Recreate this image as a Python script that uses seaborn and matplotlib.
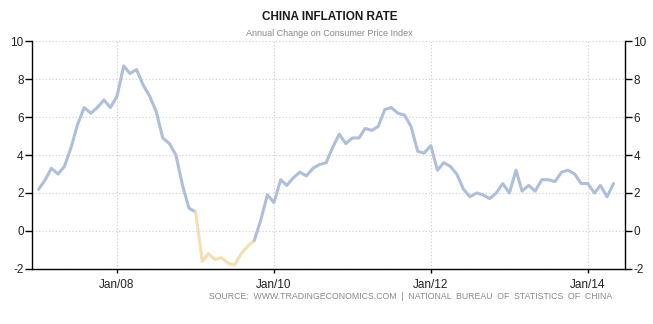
import numpy as np
import pandas as pd
import matplotlib
matplotlib.use("Agg")
import matplotlib.pyplot as plt
import matplotlib.dates as mdates
import seaborn as sns

# Monthly CPI, annual % change, Jan 2007 - May 2014
start_month = "2007-01-01"
cpi_2007 = [2.2, 2.7, 3.3, 3.0, 3.4, 4.4, 5.6, 6.5, 6.2, 6.5, 6.9, 6.5]
cpi_2008 = [7.1, 8.7, 8.3, 8.5, 7.7, 7.1, 6.3, 4.9, 4.6, 4.0, 2.4, 1.2]
cpi_2009 = [1.0, -1.6, -1.2, -1.5, -1.4, -1.7, -1.8, -1.2, -0.8, -0.5, 0.6, 1.9]
cpi_2010 = [1.5, 2.7, 2.4, 2.8, 3.1, 2.9, 3.3, 3.5, 3.6, 4.4, 5.1, 4.6]
cpi_2011 = [4.9, 4.9, 5.4, 5.3, 5.5, 6.4, 6.5, 6.2, 6.1, 5.5, 4.2, 4.1]
cpi_2012 = [4.5, 3.2, 3.6, 3.4, 3.0, 2.2, 1.8, 2.0, 1.9, 1.7, 2.0, 2.5]
cpi_2013 = [2.0, 3.2, 2.1, 2.4, 2.1, 2.7, 2.7, 2.6, 3.1, 3.2, 3.0, 2.5]
cpi_2014 = [2.5, 2.0, 2.4, 1.8, 2.5]

y_ticks = [-2, 0, 2, 4, 6, 8, 10]
x_tick_years = [2008, 2010, 2012, 2014]

values = cpi_2007 + cpi_2008 + cpi_2009 + cpi_2010 + cpi_2011 + cpi_2012 + cpi_2013 + cpi_2014
dates = pd.date_range(start_month, periods=len(values), freq="MS")
df = pd.DataFrame({"date": dates, "cpi": values})

BLUE = "#aebfdb"
GOLD = "#f5dfb0"

sns.set_theme(style="white")
plt.rcParams["font.family"] = ["Liberation Sans", "DejaVu Sans"]
plt.rcParams["axes.unicode_minus"] = False

fig = plt.figure(figsize=(6.53, 3.24), dpi=100)
ax = fig.add_axes([0.049, 0.170, 0.908, 0.703])

# split the line into runs: a segment is gold when it ends below zero
neg_end = (df["cpi"].values[1:] < 0)
runs = []
cur_flag = neg_end[0]
cur_start = 0
for i in range(1, len(neg_end)):
    if neg_end[i] != cur_flag:
        runs.append((cur_start, i, cur_flag))
        cur_start = i
        cur_flag = neg_end[i]
runs.append((cur_start, len(neg_end), cur_flag))

for s, e, is_neg in runs:
    part = df.iloc[s:e + 1]
    sns.lineplot(data=part, x="date", y="cpi", ax=ax,
                 color=GOLD if is_neg else BLUE, linewidth=2.2,
                 solid_joinstyle="round", solid_capstyle="round", zorder=3)

ax.set_ylim(-2, 10)
ax.set_xlim(pd.Timestamp("2006-12-01"), pd.Timestamp("2014-06-23"))
ax.set_yticks(y_ticks)
ax.set_xticks([pd.Timestamp(f"{y}-01-01") for y in x_tick_years])
ax.xaxis.set_major_formatter(mdates.DateFormatter("Jan/%y"))
ax.set_xlabel("")
ax.set_ylabel("")

ax.grid(True, color="#cccccc", linestyle=(0, (1, 2)), linewidth=0.8)
ax.spines["top"].set_visible(False)
for side in ["left", "right", "bottom"]:
    ax.spines[side].set_visible(True)
    ax.spines[side].set_color("black")
    ax.spines[side].set_linewidth(1.0)

ax.tick_params(axis="y", which="both", left=True, right=True, labelleft=True,
               labelright=True, length=5, width=1, color="black",
               labelsize=8.5, pad=1, labelcolor="#222222")
ax.tick_params(axis="x", bottom=True, length=3, width=1, color="black",
               labelsize=8.5, pad=4, labelcolor="#222222")

fig.text(0.505, 0.948, "CHINA INFLATION RATE", ha="center", va="center",
         fontsize=8.5, fontweight="bold", color="#1a1a1a")
fig.text(0.505, 0.897, "Annual Change on Consumer Price Index", ha="center",
         va="center", fontsize=6.5, color="#888888")
fig.text(0.937, 0.084,
         "SOURCE:  WWW.TRADINGECONOMICS.COM  |  NATIONAL  BUREAU  OF  STATISTICS  OF  CHINA",
         ha="right", va="center", fontsize=6.3, color="#8a8a8a")

fig.savefig("out.png", dpi=100)
